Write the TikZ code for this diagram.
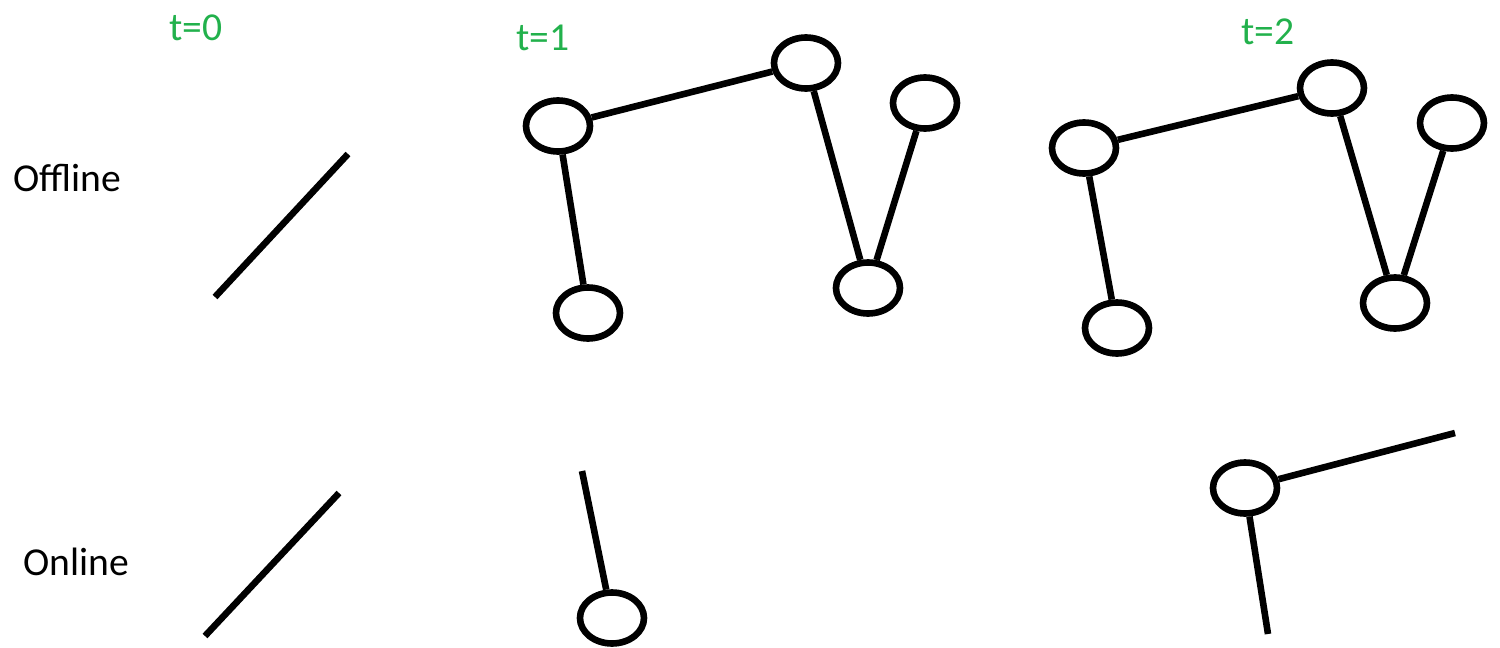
\documentclass[tikz,border=0pt]{standalone}
\usepackage{fontspec}
\setmainfont{Carlito}
\usetikzlibrary{shapes.geometric}
\definecolor{pgreen}{RGB}{34,177,76}
\tikzset{
  vert/.style={draw=black, line width=3.3pt, ellipse, inner sep=0pt, minimum width=32pt, minimum height=25.5pt},
  edge/.style={draw=black, line width=3.3pt},
  lbl/.style={font=\fontsize{19.8}{23}\selectfont, text=black, inner sep=0pt},
  tlbl/.style={font=\fontsize{19.8}{23}\selectfont, text=pgreen, inner sep=0pt}
}
\begin{document}
\begin{tikzpicture}[x=0.5pt,y=-0.5pt]
\useasboundingbox (0,0) rectangle (1500,648);
% labels
\node[tlbl] (t0) at (196,28) {t=0};
\node[tlbl] (t1) at (543,38) {t=1};
\node[tlbl] (t2) at (1268,32) {t=2};
\node[lbl] (off) at (67,178) {Offline};
\node[lbl] (on) at (76,562) {Online};
% t=0
\coordinate (o0a) at (215,297);
\coordinate (o0b) at (348,154);
\draw[edge] (o0a) -- (o0b);
\coordinate (n0a) at (205,636);
\coordinate (n0b) at (339,493);
\draw[edge] (n0a) -- (n0b);
% t=1 offline
\node[vert] (A) at (558,126) {};
\node[vert] (B) at (806,63) {};
\node[vert] (C) at (925,103) {};
\node[vert] (D) at (868,288) {};
\node[vert] (E) at (588,313) {};
\draw[edge] (A) -- (B);
\draw[edge] (A) -- (E);
\draw[edge] (B) -- (D);
\draw[edge] (C) -- (D);
% t=2 offline
\node[vert] (F) at (1084,148) {};
\node[vert] (G) at (1332,88) {};
\node[vert] (H) at (1452,123) {};
\node[vert] (I) at (1395,303) {};
\node[vert] (J) at (1117,328) {};
\draw[edge] (F) -- (G);
\draw[edge] (F) -- (J);
\draw[edge] (G) -- (I);
\draw[edge] (H) -- (I);
% t=1 online
\node[vert] (P) at (612,618) {};
\coordinate (p1) at (582,471);
\draw[edge] (p1) -- (P);
% t=2 online
\node[vert] (K) at (1245,488) {};
\coordinate (k1) at (1455,433);
\coordinate (k2) at (1268,634);
\draw[edge] (K) -- (k1);
\draw[edge] (K) -- (k2);
\end{tikzpicture}
\end{document}
